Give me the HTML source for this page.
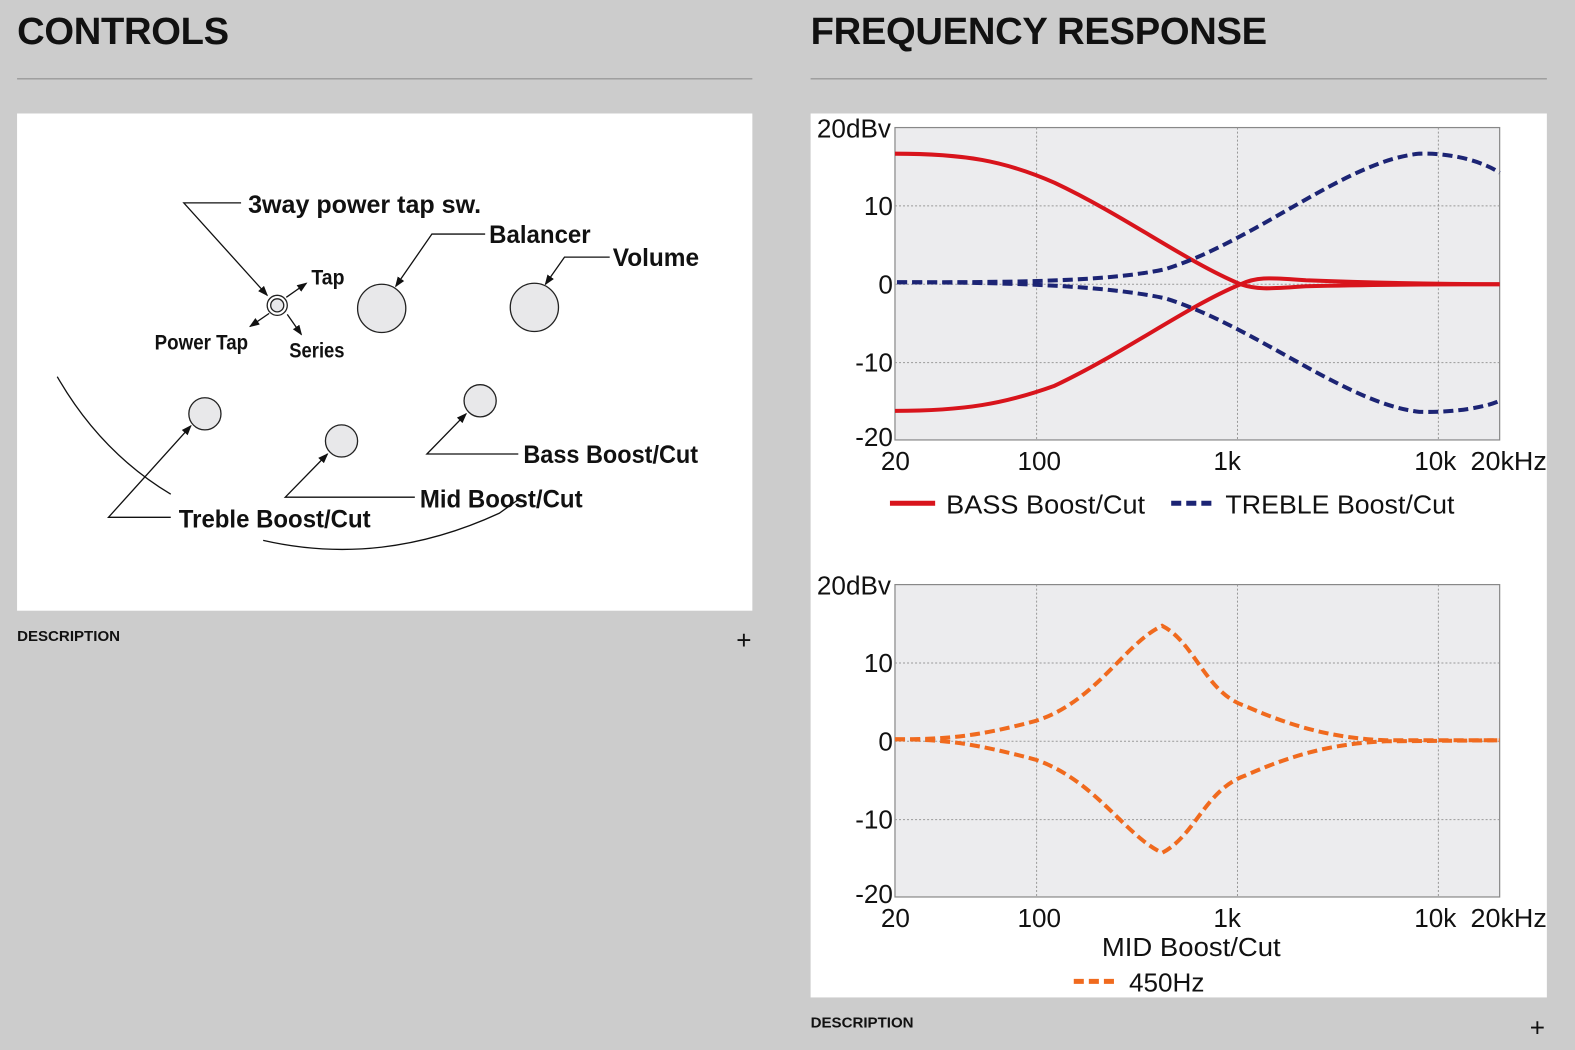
<!DOCTYPE html>
<html><head><meta charset="utf-8"><style>
body{margin:0;width:1575px;height:1049px;background:#cccccc;position:relative;overflow:hidden;font-family:"Liberation Sans",sans-serif}
#w{position:absolute;left:0;top:0;width:1568px;height:1045px;transform:scale(1.00446);transform-origin:0 0}
.h{position:absolute;top:11px;font-weight:bold;font-size:38px;color:#111;letter-spacing:-0.3px}
.rule{position:absolute;top:78px;height:1px;background:#888}
.box{position:absolute;background:#fff}
.d{position:absolute;font-weight:bold;font-size:15px;color:#111}
.p{position:absolute;font-size:26px;color:#111;line-height:1}
</style></head><body><div id="w">
<div class="h" style="left:17px">CONTROLS</div>
<div class="h" style="left:807px">FREQUENCY RESPONSE</div>
<div class="rule" style="left:17px;width:732px"></div>
<div class="rule" style="left:807px;width:733px"></div>
<div class="box" style="left:17px;top:113px;width:732px;height:495px"></div>
<div class="box" style="left:807px;top:113px;width:733px;height:880px"></div>
<div class="d" style="left:17px;top:625px">DESCRIPTION</div>
<div class="p" style="left:733px;top:624px">+</div>
<div class="d" style="left:807px;top:1010px">DESCRIPTION</div>
<div class="p" style="left:1523px;top:1010px">+</div>

<svg style="position:absolute;left:0;top:0" width="1568" height="1045">
<defs><marker id="ar" markerWidth="8" markerHeight="8" refX="7" refY="4" orient="auto"><path d="M0,1 L8,4 L0,7z" fill="#111"/></marker></defs>
<g font-family="'Liberation Sans',sans-serif" font-weight="bold" font-size="25" fill="#111" stroke="none" lengthAdjust="spacingAndGlyphs">
<text x="247" y="212" textLength="232" lengthAdjust="spacingAndGlyphs">3way power tap sw.</text>
<text x="487" y="242" textLength="101" lengthAdjust="spacingAndGlyphs">Balancer</text>
<text x="610" y="265" textLength="86" lengthAdjust="spacingAndGlyphs">Volume</text>
<text x="310" y="283" font-size="21" textLength="33" lengthAdjust="spacingAndGlyphs">Tap</text>
<text x="154" y="348" font-size="21" textLength="93" lengthAdjust="spacingAndGlyphs">Power Tap</text>
<text x="288" y="356" font-size="21" textLength="55" lengthAdjust="spacingAndGlyphs">Series</text>
<text x="521" y="461" textLength="174" lengthAdjust="spacingAndGlyphs">Bass Boost/Cut</text>
<text x="418" y="505" textLength="162" lengthAdjust="spacingAndGlyphs">Mid Boost/Cut</text>
<text x="178" y="525" textLength="191" lengthAdjust="spacingAndGlyphs">Treble Boost/Cut</text>
</g>
<g stroke="#111" stroke-width="1.3" fill="none">
<polyline points="240,202 183,202 266,294" marker-end="url(#ar)"/>
<polyline points="483,233 430,233 394,285" marker-end="url(#ar)"/>
<polyline points="607,256 562,256 543,283" marker-end="url(#ar)"/>
<line x1="285" y1="296" x2="305" y2="282" marker-end="url(#ar)"/>
<line x1="268" y1="312" x2="249" y2="325" marker-end="url(#ar)"/>
<line x1="286" y1="313" x2="300" y2="333" marker-end="url(#ar)"/>
<polyline points="170,515 108,515 190,424" marker-end="url(#ar)"/>
<polyline points="413,495 284,495 326,452" marker-end="url(#ar)"/>
<polyline points="516,452 425,452 464,412" marker-end="url(#ar)"/>
<path d="M57,375 Q100,450 170,492"/>
<path d="M262,538 Q380,565 497,511 L518,496"/>
</g>
<g stroke="#222" stroke-width="1.3" fill="#e8e8ea">
<circle cx="380" cy="307" r="24"/><circle cx="532" cy="306" r="24"/>
<circle cx="204" cy="412" r="16"/><circle cx="340" cy="439" r="16"/><circle cx="478" cy="399" r="16"/>
<circle cx="276" cy="304" r="10" fill="#fff"/><circle cx="276" cy="304" r="6.5"/>
</g>

<rect x="891" y="127" width="602" height="311" fill="#ececee" stroke="#888" stroke-width="1.2"/>
<g stroke="#999" stroke-width="1" stroke-dasharray="2,2">
<line x1="1032" y1="127" x2="1032" y2="438"/><line x1="1232" y1="127" x2="1232" y2="438"/><line x1="1432" y1="127" x2="1432" y2="438"/>
<line x1="891" y1="205" x2="1493" y2="205"/><line x1="891" y1="283" x2="1493" y2="283"/><line x1="891" y1="361" x2="1493" y2="361"/>
</g>
<g fill="none" stroke="#d8141c" stroke-width="4">
<path d="M891,153 C960,153 1000,160 1050,182 C1120,215 1180,260 1235,283 C1250,276 1260,276 1300,279 C1380,282 1450,283 1493,283"/>
<path d="M891,409 C960,409 1000,402 1050,384 C1120,351 1180,306 1235,283 C1250,288 1260,288 1300,285 C1380,283 1450,283 1493,283"/>
</g>
<g fill="none" stroke="#1c2474" stroke-width="4" stroke-dasharray="10,5">
<path d="M893,281 C1000,281 1100,281 1160,268 C1250,240 1340,160 1413,153 C1450,152 1480,163 1493,172"/>
<path d="M893,281 C1000,281 1100,284 1160,297 C1250,325 1340,402 1413,410 C1450,411 1480,405 1493,399"/>
</g>
<g font-family="'Liberation Sans',sans-serif" font-size="26" fill="#111">
<text x="887" y="137" text-anchor="end">20dBv</text>
<text x="889" y="214" text-anchor="end">10</text>
<text x="889" y="292" text-anchor="end">0</text>
<text x="889" y="370" text-anchor="end">-10</text>
<text x="889" y="444" text-anchor="end">-20</text>
<text x="877" y="468">20</text><text x="1013" y="468">100</text><text x="1208" y="468">1k</text><text x="1408" y="468">10k</text><text x="1464" y="468" textLength="76" lengthAdjust="spacingAndGlyphs">20kHz</text>
<text x="942" y="511" textLength="198" lengthAdjust="spacingAndGlyphs">BASS Boost/Cut</text><text x="1220" y="511" textLength="228" lengthAdjust="spacingAndGlyphs">TREBLE Boost/Cut</text>
</g>
<line x1="886" y1="501" x2="931" y2="501" stroke="#d8141c" stroke-width="5"/>
<line x1="1166" y1="501" x2="1210" y2="501" stroke="#1c2474" stroke-width="5" stroke-dasharray="10,5"/>

<rect x="891" y="582" width="602" height="311" fill="#ececee" stroke="#888" stroke-width="1.2"/>
<g stroke="#999" stroke-width="1" stroke-dasharray="2,2">
<line x1="1032" y1="582" x2="1032" y2="893"/><line x1="1232" y1="582" x2="1232" y2="893"/><line x1="1432" y1="582" x2="1432" y2="893"/>
<line x1="891" y1="660" x2="1493" y2="660"/><line x1="891" y1="738" x2="1493" y2="738"/><line x1="891" y1="816" x2="1493" y2="816"/>
</g>
<g fill="none" stroke="#f06a1e" stroke-width="4" stroke-dasharray="10,5">
<path d="M891,736 C940,736 970,734 1030,718 C1090,700 1120,640 1157,623 C1190,640 1200,690 1240,703 C1290,725 1330,735 1380,737 L1493,737"/>
<path d="M891,736 C940,736 970,740 1030,756 C1090,776 1120,832 1157,849 C1190,832 1200,786 1240,772 C1290,750 1330,740 1380,738 L1493,737"/>
</g>
<g font-family="'Liberation Sans',sans-serif" font-size="26" fill="#111">
<text x="887" y="592" text-anchor="end">20dBv</text>
<text x="889" y="669" text-anchor="end">10</text>
<text x="889" y="747" text-anchor="end">0</text>
<text x="889" y="825" text-anchor="end">-10</text>
<text x="889" y="899" text-anchor="end">-20</text>
<text x="877" y="923">20</text><text x="1013" y="923">100</text><text x="1208" y="923">1k</text><text x="1408" y="923">10k</text><text x="1464" y="923" textLength="76" lengthAdjust="spacingAndGlyphs">20kHz</text>
<text x="1097" y="952" textLength="178" lengthAdjust="spacingAndGlyphs">MID Boost/Cut</text><text x="1124" y="987">450Hz</text>
</g>
<line x1="1069" y1="977" x2="1114" y2="977" stroke="#f06a1e" stroke-width="5" stroke-dasharray="10,5"/>
</svg>
</div></body></html>
